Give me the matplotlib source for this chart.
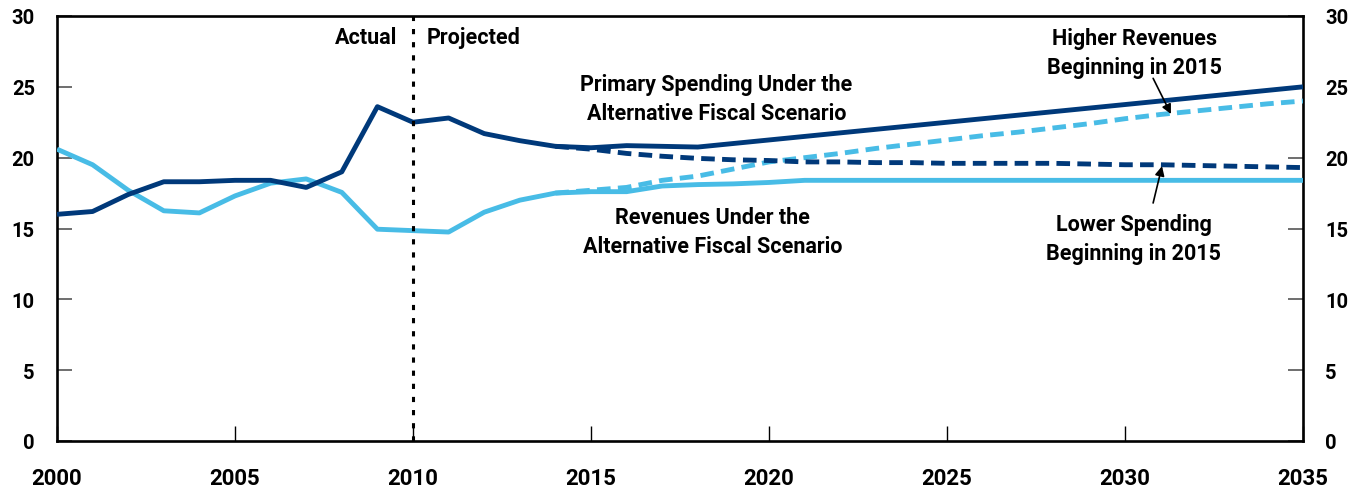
import matplotlib
matplotlib.use("Agg")
import matplotlib.pyplot as plt

years = list(range(2000, 2036))
spending = [16.0, 16.2, 17.4, 18.3, 18.3, 18.4, 18.4, 17.9, 19.0, 23.6,
            22.5, 22.8, 21.7, 21.2, 20.8, 20.7, 20.85, 20.8, 20.75, 21.0,
            21.25, 21.5, 21.75, 22.0, 22.25, 22.5, 22.75, 23.0, 23.25, 23.5,
            23.75, 24.0, 24.25, 24.5, 24.75, 25.0]
revenues = [20.6, 19.5, 17.7, 16.25, 16.1, 17.3, 18.2, 18.5, 17.55, 14.95,
            14.85, 14.75, 16.15, 17.0, 17.5, 17.6, 17.6, 18.0, 18.1, 18.15,
            18.25, 18.4, 18.4, 18.4, 18.4, 18.4, 18.4, 18.4, 18.4, 18.4,
            18.4, 18.4, 18.4, 18.4, 18.4, 18.4]
alt_years = list(range(2014, 2036))
lower_spending = [20.8, 20.6, 20.3, 20.1, 19.95, 19.85, 19.8, 19.7, 19.7, 19.65,
                  19.65, 19.6, 19.6, 19.6, 19.6, 19.55, 19.5, 19.5, 19.45, 19.4,
                  19.35, 19.3]
higher_revenues = [17.5, 17.7, 17.9, 18.4, 18.7, 19.2, 19.7, 20.0, 20.3, 20.65,
                   20.95, 21.25, 21.55, 21.8, 22.1, 22.4, 22.75, 23.05, 23.3, 23.55,
                   23.8, 24.0]
x_ticks = [2000, 2005, 2010, 2015, 2020, 2025, 2030, 2035]
y_ticks = [0, 5, 10, 15, 20, 25, 30]

DARK = "#00397A"
LIGHT = "#48BCE6"
FONT = ["Roboto", "DejaVu Sans"]

plt.rcParams["font.family"] = FONT
plt.rcParams["font.weight"] = "bold"

fig = plt.figure(figsize=(13.59, 4.89), dpi=100)
ax = fig.add_axes([57 / 1359, 1 - 442 / 489, (1303 - 57) / 1359, (442 - 17) / 489])

ax.plot(alt_years, higher_revenues, color=LIGHT, lw=3.5, dashes=(2.8, 1.5), zorder=3)
ax.plot(alt_years, lower_spending, color=DARK, lw=3.5, dashes=(2.8, 1.5), zorder=3)
ax.plot(years, revenues, color=LIGHT, lw=3.5, zorder=4, solid_capstyle="butt")
ax.plot(years, spending, color=DARK, lw=3.5, zorder=5, solid_capstyle="butt")

ax.axvline(2010, color="black", lw=2.2, linestyle=(0, (1.7, 2.6)), zorder=6)

ax.set_xlim(2000, 2035)
ax.set_ylim(0, 30)
ax.set_xticks(x_ticks)
ax.set_yticks(y_ticks)
for s in ax.spines.values():
    s.set_linewidth(1.9)
    s.set_color("black")

ax.tick_params(axis="x", direction="in", length=11, width=1.0, color="black",
               pad=19, labelsize=16)
ax.tick_params(axis="y", direction="in", length=11, width=1.2, color="#555555",
               pad=16, labelsize=14.5, right=True, labelright=True, left=True)
for lab in ax.get_xticklabels() + ax.get_yticklabels():
    lab.set_fontweight("bold")

txt = dict(fontsize=15.5, fontweight="bold", color="black", family=FONT)
ax.text(2009.57, 28.5, "Actual", ha="right", va="center", **txt)
ax.text(2010.38, 28.5, "Projected", ha="left", va="center", **txt)
ax.text(2018.52, 24.2, "Primary Spending Under the\nAlternative Fiscal Scenario",
        ha="center", va="center", linespacing=1.4, **txt)
ax.text(2018.41, 14.8, "Revenues Under the\nAlternative Fiscal Scenario",
        ha="center", va="center", linespacing=1.4, **txt)
ax.text(2030.26, 27.45, "Higher Revenues\nBeginning in 2015",
        ha="center", va="center", linespacing=1.4, **txt)
ax.text(2030.24, 14.3, "Lower Spending\nBeginning in 2015",
        ha="center", va="center", linespacing=1.4, **txt)

arrow = dict(arrowstyle="-|>", color="black", lw=1.2, mutation_scale=14,
             shrinkA=0, shrinkB=0)
ax.annotate("", xy=(2031.29, 23.08), xytext=(2030.79, 25.6), arrowprops=arrow, zorder=7)
ax.annotate("", xy=(2031.04, 19.4), xytext=(2030.79, 16.8), arrowprops=arrow, zorder=7)

fig.savefig("out.png", dpi=100)
